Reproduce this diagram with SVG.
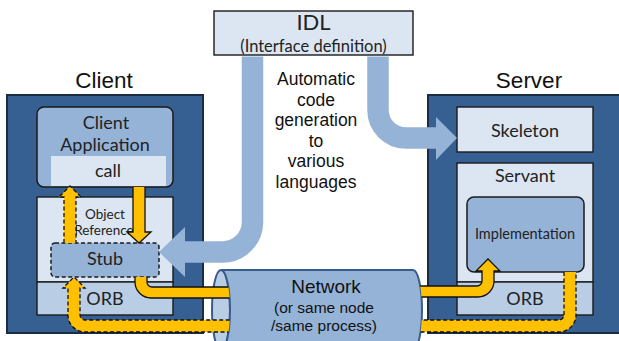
<svg xmlns="http://www.w3.org/2000/svg" width="619" height="341" viewBox="0 0 619 341">
  <style>
    .host { fill: #376092; stroke: #1c2c42; stroke-width: 2; }
    .pale { fill: #DCE6F2; stroke: #1a1a1a; stroke-width: 1.4; }
    .orb { fill: #B9CDE5; stroke: #1a1a1a; stroke-width: 1.4; }
    .mid { fill: #95B3D7; stroke: #1a1a1a; stroke-width: 1.5; }
    .dash { stroke-dasharray: 4 2.5; }
    .title { font-family: "Liberation Sans", Arial, sans-serif; font-size: 22.5px; fill: #111; text-anchor: middle; }
    .arial { font-family: "Liberation Sans", Arial, sans-serif; fill: #111; text-anchor: middle; }
    .cal { font-family: Lato, "Noto Sans", sans-serif; fill: #222; text-anchor: middle; }
    .gen { fill: #95B3D7; }
    .genline { fill: none; stroke: #95B3D7; stroke-width: 21.5; }
    .yf { fill: #FFC000; stroke: none; }
    .ys { fill: none; stroke: #111; stroke-width: 1.3; stroke-linejoin: miter; }
    .yd { fill: none; stroke: #111; stroke-width: 1.3; stroke-dasharray: 4 2.5; }
    .net { fill: #95B3D7; stroke: #385D8A; stroke-width: 2; }
    .netface { fill: #B9CDE5; stroke: #385D8A; stroke-width: 2; }
  </style>

  <!-- Client host -->
  <g id="client">
    <text class="title" x="104" y="88">Client</text>
    <rect class="host" x="7" y="95" width="196" height="238"/>
    <rect class="pale" x="37" y="197" width="136" height="85"/>
    <text class="cal" x="105" y="219" font-size="13.5">Object</text>
    <text class="cal" x="104" y="235" font-size="13.5">Reference</text>
  </g>
  <g id="client-orb">
    <rect class="orb" x="37" y="282" width="136" height="33"/>
    <text class="cal" x="105" y="305" font-size="18">ORB</text>
  </g>
  <g id="client-application">
    <rect class="mid" x="37" y="107" width="136" height="80" rx="7"/>
    <rect x="51" y="156" width="115" height="30" fill="#DCE6F2"/>
    <text class="cal" x="106" y="129" font-size="18">Client</text>
    <text class="cal" x="105" y="151" font-size="18">Application</text>
    <text class="cal" x="108" y="177" font-size="18">call</text>
  </g>
  <g id="stub">
    <rect class="mid dash" x="51" y="243" width="108" height="34" rx="4"/>
    <text class="cal" x="105" y="265" font-size="18">Stub</text>
  </g>

  <!-- Server host -->
  <g id="server">
    <text class="title" x="529" y="88">Server</text>
    <rect class="host" x="428" y="95" width="196" height="238"/>
  </g>
  <g id="skeleton">
    <rect class="pale" x="457" y="107" width="136" height="45"/>
    <text class="cal" x="525" y="137" font-size="18">Skeleton</text>
  </g>
  <g id="servant">
    <rect class="pale" x="457" y="163" width="136" height="119"/>
    <text class="cal" x="525" y="182" font-size="18">Servant</text>
  </g>
  <g id="server-orb">
    <rect class="orb" x="457" y="282" width="136" height="33"/>
    <text class="cal" x="525" y="305" font-size="18">ORB</text>
  </g>
  <g id="implementation">
    <rect class="mid" x="467" y="197" width="117" height="75" rx="7"/>
    <text class="cal" x="525" y="239" font-size="14.5">Implementation</text>
  </g>

  <!-- Interface definition -->
  <g id="idl">
    <rect class="pale" x="214" y="11" width="199" height="44"/>
    <text class="cal" x="313.5" y="30" font-size="22">IDL</text>
    <text class="cal" x="313.5" y="52" font-size="16.5">(Interface definition)</text>
  </g>

  <g id="codegen-note">
    <text class="arial" x="316" y="85" font-size="17.5">Automatic</text>
    <text class="arial" x="316" y="105.5" font-size="17.5">code</text>
    <text class="arial" x="316" y="126" font-size="17.5">generation</text>
    <text class="arial" x="316" y="146.5" font-size="17.5">to</text>
    <text class="arial" x="316" y="167" font-size="17.5">various</text>
    <text class="arial" x="316" y="187.5" font-size="17.5">languages</text>
  </g>

  <!-- Network cylinder -->
  <g id="network">
    <ellipse class="netface" cx="221" cy="310" rx="9" ry="40"/>
    <path class="net" d="M221,270 H413 A9,40 0 0 1 413,350 H221 A9,40 0 0 0 221,270 Z"/>
    <text class="arial" x="326" y="293" font-size="19">Network</text>
    <text class="arial" x="324" y="313" font-size="15.5">(or same node</text>
    <text class="arial" x="324" y="331" font-size="15.5">/same process)</text>
  </g>

  <g id="connectors">
    <!-- code generation from IDL to stub and skeleton -->
    <path class="genline" d="M252.5,56.5 V222 A30,30 0 0 1 222.5,252 H184"/>
    <polygon class="gen" points="185,227 159,252 185,277"/>
    <path class="genline" d="M378,56.5 V110 A28,28 0 0 0 406,138 H437"/>
    <polygon class="gen" points="436,117 457,138 436,160"/>

    <!-- request: call -> stub -->
    <path class="yf" d="M133,187 V232 H127 L139,243 L151,232 H145 V187 Z"/>
    <path class="ys" d="M133,187 V232 H127 L139,243 L151,232 H145 V187"/>

    <!-- request: stub -> network -->
    <path class="yf" d="M135,277 V282 A16,16 0 0 0 151,298 H229.6 A9,40 0 0 0 228.4,287 H152 A5,5 0 0 1 147,282 V277 Z"/>
    <path class="ys" d="M135,277 V282 A16,16 0 0 0 151,298 H229.6 M228.4,287 H152 A5,5 0 0 1 147,282 V277"/>

    <!-- request: network -> implementation -->
    <path class="yf" d="M420.2,286 H477 A5,5 0 0 0 482,281 V271 H476 L488,259 L500,271 H494 V281 A16,16 0 0 1 478,297 H421.5 A9,40 0 0 0 420.2,286 Z"/>
    <path class="ys" d="M420.2,286 H477 A5,5 0 0 0 482,281 V271 H476 L488,259 L500,271 H494 V281 A16,16 0 0 1 478,297 H421.5"/>

    <!-- reply: implementation -> network -->
    <path class="yf" d="M564,272 V315 A5,5 0 0 1 559,320 H421.7 A9,40 0 0 1 420.5,332 H559 A17,17 0 0 0 576,315 V272 Z"/>
    <path class="yd" d="M564,272 V315 A5,5 0 0 1 559,320 H421.7 M420.5,332 H559 A17,17 0 0 0 576,315 V272"/>

    <!-- reply: network -> stub -->
    <path class="yf" d="M229.7,320 H85 A5,5 0 0 1 80,315 V288 H85 L74,277 L63,288 H68 V315 A17,17 0 0 0 85,332 H228.5 A9,40 0 0 0 229.7,320 Z"/>
    <path class="yd" d="M229.7,320 H85 A5,5 0 0 1 80,315 V288 H85 L74,277 L63,288 H68 V315 A17,17 0 0 0 85,332 H228.5"/>

    <!-- reply: stub -> call -->
    <path class="yf" d="M64,243 V197 H59 L70,186 L81,197 H76 V243 Z"/>
    <path class="yd" d="M64,243 V197 H59 L70,186 L81,197 H76 V243"/>
  </g>
</svg>
